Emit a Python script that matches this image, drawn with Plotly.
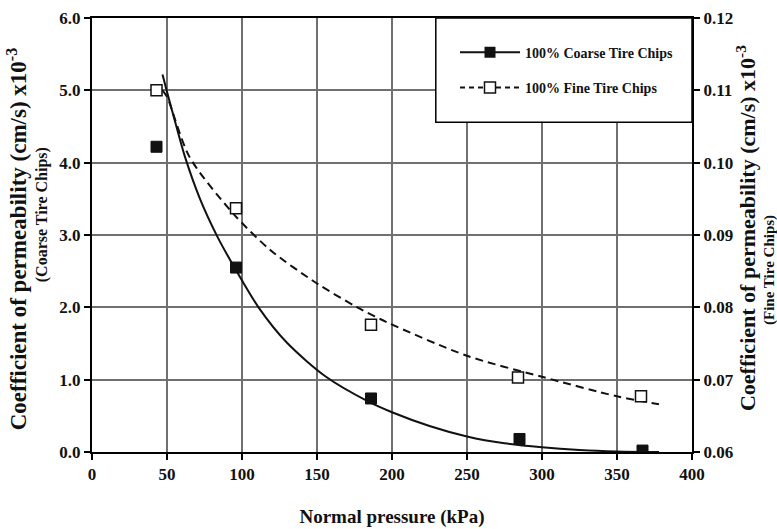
import plotly.graph_objects as go

# ---- data ----
coarse_x = [43, 96, 186, 285, 367]
coarse_y = [4.22, 2.55, 0.74, 0.18, 0.02]           # x10^-3 cm/s (left axis)
fine_x = [43, 96, 186, 284, 366]
fine_y = [0.110, 0.0937, 0.0776, 0.0703, 0.0677]    # x10^-3 cm/s (right axis)

coarse_fit_x = [47, 50, 56, 62, 72, 84, 95, 111, 130, 156, 184, 200, 225, 250, 275, 300, 325, 350, 378]
coarse_fit_y = [5.22, 4.98, 4.52, 4.08, 3.5, 2.96, 2.55, 2.0, 1.51, 1.04, 0.70, 0.55, 0.36, 0.215, 0.12, 0.065, 0.028, 0.008, 0.0]
fine_fit_x = [47, 50, 65, 94, 119, 150, 176, 196, 250, 300, 350, 378]
fine_fit_y = [0.1100, 0.1091, 0.1008, 0.0930, 0.0879, 0.0833, 0.0801, 0.0780, 0.0733, 0.0704, 0.0677, 0.0666]

x_ticks = [0, 50, 100, 150, 200, 250, 300, 350, 400]
left_ticks = [0, 1, 2, 3, 4, 5, 6]
right_ticks = [0.06, 0.07, 0.08, 0.09, 0.10, 0.11, 0.12]

series_names = ["100% Coarse Tire Chips", "100% Fine Tire Chips"]

FONT = "Liberation Serif"
INK = "#111111"
GRID = "#707070"

fig = go.Figure()

# fitted curves
fig.add_trace(go.Scatter(x=coarse_fit_x, y=coarse_fit_y, mode="lines",
                         line=dict(color=INK, width=2, shape="spline", smoothing=0.8),
                         showlegend=False, yaxis="y"))
fig.add_trace(go.Scatter(x=fine_fit_x, y=fine_fit_y, mode="lines",
                         line=dict(color=INK, width=2, dash="8px,5px", shape="spline", smoothing=0.8),
                         showlegend=False, yaxis="y2"))
# measured points
fig.add_trace(go.Scatter(x=coarse_x, y=coarse_y, mode="markers",
                         marker=dict(symbol="square", size=11, color=INK,
                                     line=dict(color=INK, width=1)),
                         showlegend=False, yaxis="y"))
fig.add_trace(go.Scatter(x=fine_x, y=fine_y, mode="markers",
                         marker=dict(symbol="square", size=11, color="white",
                                     line=dict(color=INK, width=1.5)),
                         showlegend=False, yaxis="y2"))
# legend entries
fig.add_trace(go.Scatter(x=[None], y=[None], mode="lines+markers", name=series_names[0],
                         line=dict(color=INK, width=2),
                         marker=dict(symbol="square", size=11, color=INK),
                         legendgroup="a", yaxis="y"))
fig.add_trace(go.Scatter(x=[None], y=[None], mode="lines+markers", name=series_names[1],
                         line=dict(color=INK, width=2, dash="5px,4px"),
                         marker=dict(symbol="square", size=11, color="white",
                                     line=dict(color=INK, width=1.5)),
                         legendgroup="b", yaxis="y2"))

axis_common = dict(showline=True, linecolor="black", linewidth=2, automargin=False,
                   ticks="outside", ticklen=6, tickcolor="black", tickwidth=1.5,
                   tickfont=dict(family=FONT, size=17, color=INK, weight="bold"),
                   zeroline=False)

fig.update_layout(
    width=777, height=529,
    margin=dict(l=92, r=85, t=18, b=77),
    paper_bgcolor="white", plot_bgcolor="white",
    font=dict(family=FONT, color=INK),
    xaxis=dict(range=[0, 400], tickvals=x_ticks, showgrid=True, gridcolor=GRID, gridwidth=1.5,
               mirror=True,
               title=dict(text="Normal pressure (kPa)", standoff=26,
                          font=dict(family=FONT, size=19, color=INK, weight="bold")),
               **axis_common),
    yaxis=dict(range=[0, 6], tickvals=left_ticks, tickformat=".1f", showgrid=True,
               gridcolor=GRID, gridwidth=1.5, **axis_common),
    yaxis2=dict(range=[0.06, 0.12], tickvals=right_ticks, tickformat=".2f", overlaying="y",
                side="right", showgrid=False, **axis_common),
    legend=dict(x=0.605, y=0.957, xanchor="left", yanchor="top",
                bgcolor="rgba(0,0,0,0)", borderwidth=0,
                font=dict(family=FONT, size=14, color=INK, weight="bold"),
                itemwidth=60, tracegroupgap=14, traceorder="grouped"),
    shapes=[dict(type="rect", xref="paper", yref="paper", x0=0.573, x1=1.0, y0=0.76, y1=1.0,
                 line=dict(color="black", width=1.5), fillcolor="white", layer="above")],
    annotations=[
        dict(text="Coefficient of permeability (cm/s) x10<sup>-3</sup>", xref="paper", yref="paper",
             x=-0.125, y=0.49, textangle=-90, showarrow=False, xanchor="center", yanchor="middle",
             font=dict(family=FONT, size=23, color=INK, weight="bold")),
        dict(text="(Coarse Tire Chips)", xref="paper", yref="paper",
             x=-0.083, y=0.546, textangle=-90, showarrow=False, xanchor="center", yanchor="middle",
             font=dict(family=FONT, size=16, color=INK, weight="bold")),
        dict(text="Coefficient of permeability (cm/s) x10<sup>-3</sup>", xref="paper", yref="paper",
             x=1.090, y=0.516, textangle=-90, showarrow=False, xanchor="center", yanchor="middle",
             font=dict(family=FONT, size=22, color=INK, weight="bold")),
        dict(text="(Fine Tire Chips)", xref="paper", yref="paper",
             x=1.128, y=0.419, textangle=-90, showarrow=False, xanchor="center", yanchor="middle",
             font=dict(family=FONT, size=15, color=INK, weight="bold")),
    ],
)

fig.write_html("out.html", config={"displayModeBar": False},
               post_script="document.body.style.margin='0';document.body.style.padding='0';")
